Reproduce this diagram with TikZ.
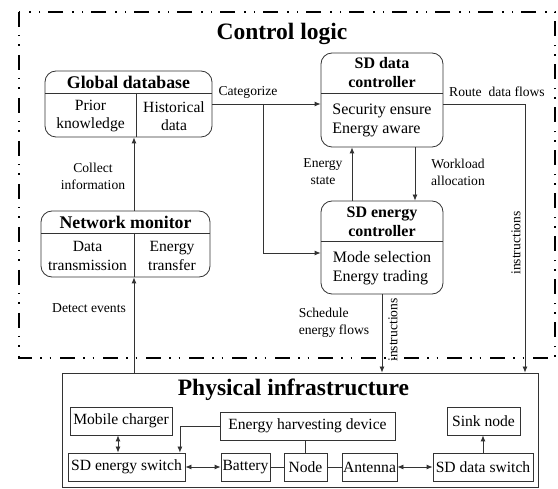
\documentclass[tikz,border=0pt]{standalone}
\usepackage{fontspec}
\setmainfont{Liberation Serif}
\usetikzlibrary{arrows.meta,positioning}

\tikzset{
  frame/.style={line width=1.8pt, dash pattern=on 15pt off 8pt on 1.5pt off 8pt on 1.5pt off 9pt},
  box/.style={draw=black!80, line width=0.8pt, rounded corners=11pt, inner sep=0pt},
  dev/.style={draw=black!80, line width=0.8pt, inner sep=0pt, minimum height=28pt,
    font=\fontsize{15.6}{18}\selectfont},
  part/.style={draw=black!80, line width=0.8pt},
  flow/.style={draw=black!80, line width=0.8pt, -{Latex[length=6pt,width=5pt]}},
  both/.style={flow, {Latex[length=6pt,width=5pt]}-{Latex[length=6pt,width=5pt]}},
  lbl/.style={font=\fontsize{13.6}{17}\selectfont, align=center, inner sep=0pt},
  head/.style={font=\bfseries\fontsize{17.8}{20}\selectfont, align=center, inner sep=0pt},
  subhead/.style={font=\bfseries\fontsize{16}{19}\selectfont, align=center, inner sep=0pt},
  body/.style={font=\fontsize{15.6}{18.5}\selectfont, align=center, inner sep=0pt},
  title/.style={font=\bfseries\fontsize{23.5}{26}\selectfont, inner sep=0pt}
}

\begin{document}
\begin{tikzpicture}[x=1pt,y=-1pt]
\useasboundingbox (0,0) rectangle (558,489);

\draw[frame] (19,12) rectangle (555,358);
\node[title] (ctl) at (282,34) {Control logic};

% global database
\node[box, minimum width=167pt, minimum height=66pt] (gdb) at (128.5,104) {};
\node[head] (gdbh) at (128.5,82) {Global database};
\draw[part] (45,93) -- (212,93) (136,93) -- (136,137);
\node[body] (gdbl) at (90.5,116) {Prior\\knowledge};
\node[body] (gdbr) at (174,116) {Historical\\data};

% network monitor
\node[box, minimum width=169pt, minimum height=66pt] (nm) at (125.5,244) {};
\node[head] (nmh) at (125.5,222) {Network monitor};
\draw[part] (41,233) -- (210,233) (134,233) -- (134,277);
\node[body] (nml) at (87.5,256) {Data\\transmission};
\node[body] (nmr) at (172,256) {Energy\\transfer};

% SD data controller
\node[box, minimum width=122pt, minimum height=94pt] (sdc) at (382,100) {};
\node[subhead] (sdch) at (382,73) {SD data\\controller};
\draw[part] (321,93) -- (443,93);
\node[body, align=left, font=\fontsize{16}{19}\selectfont] (sdcb) at (382,120) {Security ensure\\Energy aware};

% SD energy controller
\node[box, minimum width=122pt, minimum height=93pt] (sec) at (382,247.5) {};
\node[subhead] (sech) at (382,221.5) {SD energy\\controller};
\draw[part] (321,241) -- (443,241);
\node[body, align=left, font=\fontsize{16}{19}\selectfont] (secb) at (382,268) {Mode selection\\Energy trading};

% physical infrastructure
\node[part, minimum width=476pt, minimum height=114pt, inner sep=0pt] (phy) at (300,430) {};
\node[title] (phyh) at (293.5,390) {Physical infrastructure};

\node[dev, minimum width=102pt] (mc) at (121,421) {Mobile charger};
\node[dev, minimum width=117pt] (ses) at (126.5,467) {SD energy switch};
\node[dev, minimum width=175pt] (ehd) at (307.5,426) {Energy harvesting device};
\node[dev, minimum width=49pt] (bat) at (245.5,467) {Battery};
\node[dev, minimum width=43pt] (nd) at (305.5,467) {Node};
\node[dev, minimum width=55pt] (ant) at (369.5,467) {Antenna};
\node[dev, minimum width=100pt] (sds) at (483,467) {SD data switch};
\node[dev, minimum width=73pt] (snk) at (483.5,421) {Sink node};

\draw[both] ([xshift=-3pt]mc.south) -- ([xshift=-3pt]mc.south |- ses.north);
\draw[flow] (ehd.west) -| ([xshift=-5.5pt]ses.north east);
\draw[both] (ses) -- (bat);
\draw[part] (bat) -- (nd);
\draw[part] (nd) -- (ant);
\draw[part] (nd.north) -- (nd.north |- ehd.south);
\draw[both] (ant) -- (sds);
\draw[flow] (sds.north) -- (sds.north |- snk.south);

% control flows
\coordinate (nmdiv) at (134,211);
\coordinate (cat) at (263,104);
\coordinate (rt) at (525,104);

\draw[flow] (nmdiv) -- (nmdiv |- gdb.south);
\node[lbl] (colh) at (93,176) {Collect\\information};

\draw[flow] (phy.north -| nmdiv) -- (nmdiv |- nm.south);
\node[lbl] (deth) at (89,308) {Detect events};

\draw[flow] (gdb.east) -- (gdb.east -| sdc.west);
\draw[flow] (cat) |- ([yshift=-5.5pt]sec.west);
\node[lbl] (cath) at (248,92) {Categorize};

\draw[flow] ([xshift=-30pt]sec.north) -- ([xshift=-30pt]sdc.south);
\node[lbl] (esth) at (323,172) {Energy\\state};
\draw[flow] ([xshift=33pt]sdc.south) -- ([xshift=33pt]sec.north);
\node[lbl] (wlh) at (458,172) {Workload\\allocation};

\draw[flow] (sdc.east |- rt) -- (rt) -- (rt |- phy.north);
\node[lbl] (rth) at (497,92) {Route~ data flows};
\node[lbl, rotate=90] (ins1) at (516,243) {instructions};

\draw[flow] (sec.south) -- (sec.south |- phy.north);
\node[lbl, rotate=90] (ins2) at (393,330) {instructions};
\node[lbl, align=left] (schh) at (334,323) {Schedule\\energy flows};
\end{tikzpicture}
\end{document}
